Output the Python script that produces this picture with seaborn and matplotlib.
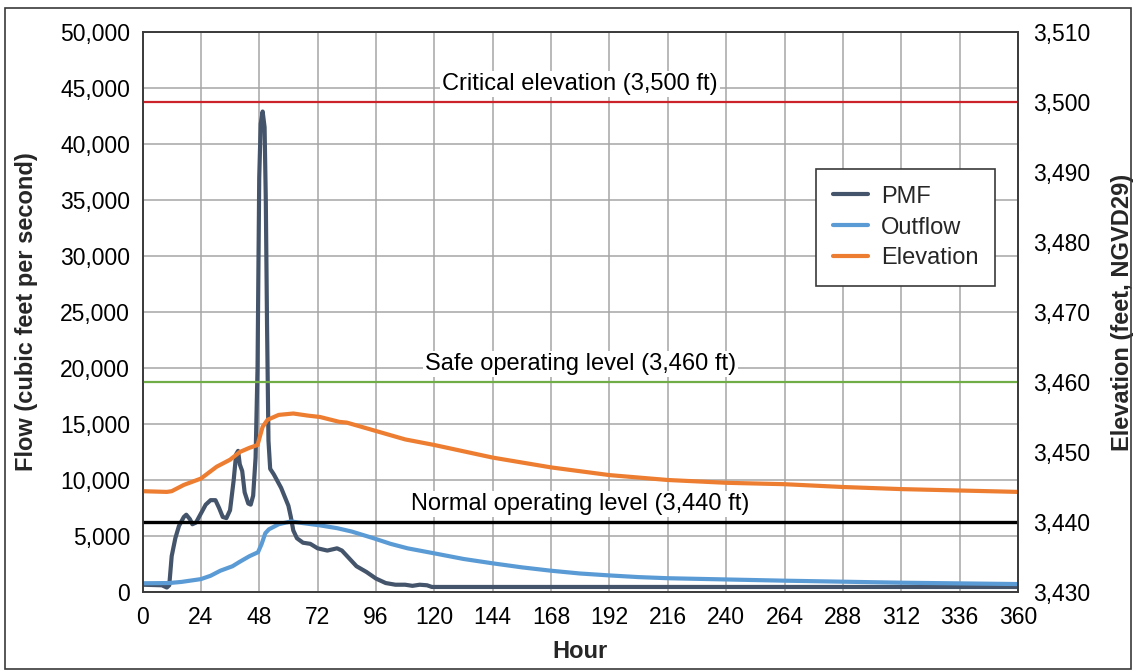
import matplotlib
matplotlib.use("Agg")
import matplotlib.pyplot as plt
import seaborn as sns
import pandas as pd
from matplotlib.ticker import FuncFormatter, MultipleLocator
from matplotlib.patches import Rectangle

# Probable maximum flood inflow hydrograph (cfs)
pmf_hours = [0, 8, 10, 11, 12, 13.5, 15, 17, 18, 19.5, 20.5, 22, 24, 26, 28, 30,
             31.5, 33, 34.5, 36, 37.5, 38.5, 39.3, 40, 41, 42, 43.5, 44.5, 45.5,
             46.5, 47.3, 48, 48.6, 49.4, 50.2, 50.7, 51.2, 51.8, 52.5, 54, 57, 60,
             61, 62, 63.5, 66, 69, 72, 76, 80, 82, 85, 88, 92, 96, 100, 104, 108,
             111, 114, 117, 119, 360]
pmf_flow = [650, 600, 400, 600, 3200, 4800, 5900, 6700, 6900, 6500, 6050, 6200,
            7000, 7800, 8200, 8200, 7500, 6700, 6600, 7300, 10000, 12300, 12600,
            11400, 10800, 8900, 7900, 7800, 8600, 12000, 20000, 37000, 41800,
            42900, 41500, 35000, 24000, 13500, 11000, 10500, 9300, 7700, 6700,
            5500, 4800, 4400, 4300, 3900, 3700, 3900, 3700, 3000, 2300, 1800,
            1200, 800, 650, 650, 550, 650, 600, 450, 450]

# Routed reservoir outflow (cfs)
out_hours = [0, 11, 16, 24, 28, 32, 37, 40, 44, 47.5, 49, 50.5, 52, 56, 61, 66,
             73, 80, 86, 95, 102, 109, 120, 132, 144, 156, 168, 180, 192, 204,
             216, 240, 264, 288, 312, 336, 360]
out_flow = [780, 800, 900, 1150, 1450, 1900, 2300, 2700, 3200, 3550, 4300, 5250,
            5600, 6050, 6300, 6150, 5950, 5700, 5400, 4800, 4300, 3900, 3450,
            2950, 2560, 2200, 1900, 1650, 1480, 1330, 1230, 1120, 1010, 920, 830,
            770, 710]

# Reservoir water-surface elevation (ft, NGVD29)
elev_hours = [0, 10, 12, 17, 24, 30.5, 36, 40, 44, 47.3, 49.4, 51.4, 56, 62, 68,
              73, 81, 84, 95, 108, 120, 144, 168, 192, 216, 240, 264, 288, 312,
              336, 360]
elev_ft = [3444.4, 3444.3, 3444.4, 3445.3, 3446.2, 3447.9, 3448.9, 3450.0,
           3450.6, 3451.0, 3453.6, 3454.6, 3455.3, 3455.5, 3455.2, 3455.0,
           3454.3, 3454.2, 3453.1, 3451.8, 3451.0, 3449.2, 3447.8, 3446.7,
           3446.0, 3445.6, 3445.4, 3445.0, 3444.7, 3444.5, 3444.3]

# Reference elevations
ref_levels = [3500, 3460, 3440]
ref_labels = ["Critical elevation (3,500 ft)", "Safe operating level (3,460 ft)",
              "Normal operating level (3,440 ft)"]
ref_colors = ["#CC2229", "#70AD47", "#000000"]
ref_widths = [1.6, 1.6, 2.4]

x_ticks = list(range(0, 361, 24))

sns.set_style("white")
plt.rcParams["font.family"] = ["Liberation Sans", "DejaVu Sans"]

W, H = 1135, 671
fig = plt.figure(figsize=(W / 100, H / 100), dpi=100)
left, right, top, bottom = 142.5, 1018, 32, 592
ax = fig.add_axes([left / W, (H - bottom) / H, (right - left) / W, (bottom - top) / H])
ax2 = ax.twinx()

pmf_df = pd.DataFrame({"Hour": pmf_hours, "Flow": pmf_flow})
out_df = pd.DataFrame({"Hour": out_hours, "Flow": out_flow})
elev_df = pd.DataFrame({"Hour": elev_hours, "Elevation": elev_ft})

sns.lineplot(data=pmf_df, x="Hour", y="Flow", ax=ax, color="#44546A",
             linewidth=3.0, label="PMF", legend=False)
sns.lineplot(data=out_df, x="Hour", y="Flow", ax=ax, color="#5B9BD5",
             linewidth=3.0, label="Outflow", legend=False)
sns.lineplot(data=elev_df, x="Hour", y="Elevation", ax=ax2, color="#ED7D31",
             linewidth=3.0, label="Elevation", legend=False)

for lvl, lab, col, lw in zip(ref_levels, ref_labels, ref_colors, ref_widths):
    ax2.axhline(lvl, color=col, linewidth=lw, zorder=1)
    ax2.text(180, lvl + 2.6, lab, ha="center", va="center", fontsize=17,
             color="black", bbox=dict(facecolor="white", edgecolor="none", pad=1.5))

ax.set_xlim(0, 360)
ax.set_ylim(0, 50000)
ax2.set_ylim(3430, 3510)
ax.set_xticks(x_ticks)
ax.yaxis.set_major_locator(MultipleLocator(5000))
ax2.yaxis.set_major_locator(MultipleLocator(10))
comma = FuncFormatter(lambda v, p: f"{v:,.0f}")
ax.yaxis.set_major_formatter(comma)
ax2.yaxis.set_major_formatter(comma)

ax.grid(True, color="#a6a6a6", linewidth=1.1)
ax2.grid(False)
ax.tick_params(axis="both", length=0, labelsize=16.5, colors="black")
ax.tick_params(axis="y", pad=9)
ax.tick_params(axis="x", pad=10)
ax2.tick_params(axis="y", length=0, labelsize=16.5, pad=11, colors="black")

for a in (ax, ax2):
    for s in a.spines.values():
        s.set_color("#3a3a3a")
        s.set_linewidth(1.2)

ax.set_xlabel("Hour", fontsize=17, fontweight="bold")
ax.set_ylabel("Flow (cubic feet per second)", fontsize=17, fontweight="bold")
ax2.set_ylabel("Elevation (feet, NGVD29)", fontsize=17, fontweight="bold")
ax.xaxis.label.set_va("center")
ax.yaxis.label.set_va("center")
ax2.yaxis.label.set_va("center")
ax.xaxis.set_label_coords(0.5, -(652 - bottom) / (bottom - top))
ax.yaxis.set_label_coords((27 - left) / (right - left), 0.5)
ax2.yaxis.set_label_coords((1123 - left) / (right - left), 0.5)

h1, l1 = ax.get_legend_handles_labels()
h2, l2 = ax2.get_legend_handles_labels()
leg = ax2.legend(h1 + h2, l1 + l2, loc="upper left",
                 bbox_to_anchor=((816 - left) / (right - left), (bottom - 169) / (bottom - top)),
                 fontsize=17, frameon=True, fancybox=False, framealpha=1,
                 edgecolor="#3a3a3a", handlelength=1.5, handletextpad=0.55,
                 labelspacing=0.38, borderpad=0.7, borderaxespad=0)
leg.get_frame().set_linewidth(1.2)

fig.patches.append(Rectangle((5 / W, 2 / H), (1131 - 5) / W, (H - 8 - 2) / H,
                             transform=fig.transFigure, fill=False,
                             edgecolor="#3a3a3a", linewidth=1.2))

fig.savefig("out.png", dpi=100)
